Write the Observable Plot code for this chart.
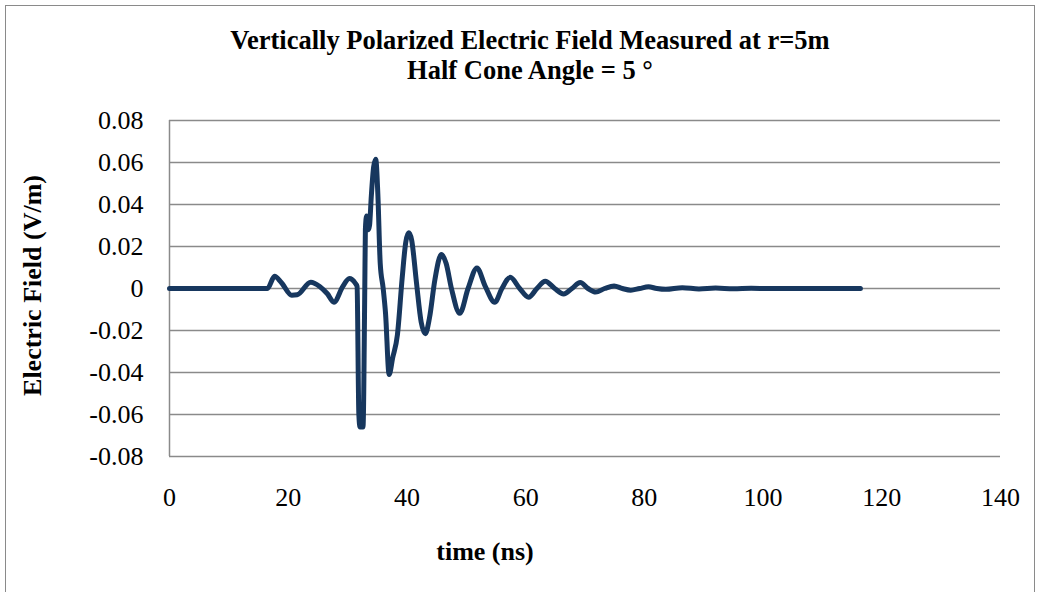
<!DOCTYPE html>
<html>
<head>
<meta charset="utf-8">
<script src="https://cdn.jsdelivr.net/npm/d3@7"></script>
<script src="https://cdn.jsdelivr.net/npm/@observablehq/plot@0.6"></script>
<style>
  html, body { margin: 0; padding: 0; background: #fff; overflow: hidden; }
  #wrap { position: relative; width: 1039px; height: 592px; font-family: "Liberation Serif", "Times New Roman", serif; }
  #border { position: absolute; left: 5px; top: 5px; width: 1030px; height: 640px; border: 1px solid #8a8a8a; box-sizing: border-box; }
  #title { position: absolute; left: 0; top: 0; width: 1060px; height: 100px; box-sizing: border-box; padding-top: 25px;
           text-align: center; font-weight: bold; font-size: 26.5px; line-height: 30px; color: #000; }
  #chart { position: absolute; left: 0; top: 100px; }
</style>
</head>
<body>
<div id="wrap">
  <div id="border"></div>
  <div id="title"></div>
  <div id="chart"></div>
</div>
<script>
const titleText = "Vertically Polarized Electric Field Measured at r=5m";
const subtitleText = "Half Cone Angle = 5 °";
const xLabel = "time (ns)";
const yLabel = "Electric Field (V/m)";
const xTicks = [0, 20, 40, 60, 80, 100, 120, 140];
const yTicks = [-0.08, -0.06, -0.04, -0.02, 0, 0.02, 0.04, 0.06, 0.08];

const timeNs = [0, 16.5, 17.7, 18.8, 20.6, 21.5, 23.8, 25.3, 26.6, 27.7, 29.2, 30.3, 31.3, 31.6,
  31.9, 32.1, 32.6, 32.9, 33.0, 33.2, 33.5, 33.7, 34.0, 34.4, 34.75, 35.1, 35.5, 36.0, 36.4, 37.0,
  37.6, 38.4, 39.2, 39.8, 40.3, 40.8, 41.6, 42.4, 43.1, 43.8, 44.7, 45.8, 46.6, 47.5, 48.9, 50.3,
  51.8, 53.2, 54.8, 56.0, 57.4, 59.0, 60.5, 61.9, 63.3, 64.9, 66.4, 67.8, 69.2, 70.5, 71.8, 73.3,
  74.9, 76.3, 77.7, 79.2, 80.7, 82.1, 83.6, 86.4, 89.2, 92.0, 95.0, 98.0, 101.0, 116.4];
const efield = [0, 0, 0.0058, 0.003, -0.0032, -0.003, 0.003, 0.001, -0.0025, -0.0065, 0.001, 0.0048, 0.0025, 0.001,
  -0.06, -0.066, -0.066, 0.0, 0.028, 0.0345, 0.028, 0.03, 0.044, 0.058, 0.0615, 0.045, 0.012, 0.0, -0.012, -0.041,
  -0.033, -0.022, 0.005, 0.022, 0.0265, 0.023, 0.003, -0.016, -0.0215, -0.014, 0.004, 0.0162, 0.012, 0.0, -0.0118, 0.0,
  0.0098, 0.001, -0.0066, 0.0, 0.0053, 0.0, -0.0042, 0.0, 0.0035, 0.0, -0.0026, 0.0, 0.0028, 0.0, -0.0017, 0.0,
  0.0012, 0.0, -0.0008, 0.0, 0.0008, 0.0, -0.0004, 0.0004, -0.0002, 0.0002, -0.0001, 0.0001, 0, 0];

document.getElementById("title").innerHTML = titleText + "<br>" + subtitleText;

const data = timeNs.map((t, i) => ({t, v: efield[i]}));

const fmtY = d => d === 0 ? "0" : d.toFixed(2);

const plot = Plot.plot({
  width: 1039,
  height: 492,
  marginLeft: 169,
  marginRight: 39,
  marginTop: 20,
  marginBottom: 136,
  style: { fontFamily: "'Liberation Serif', 'Times New Roman', serif", fontSize: "26px", color: "#000", background: "transparent" },
  x: { domain: [0, 140] },
  y: { domain: [-0.08, 0.08] },
  marks: [
    Plot.gridY(yTicks, { stroke: "#8a8a8a", strokeOpacity: 1, strokeWidth: 1.5 }),
    Plot.ruleX([0], { stroke: "#8a8a8a", strokeWidth: 1.5 }),
    Plot.axisY(yTicks, { tickSize: 0, tickPadding: 26, tickFormat: fmtY, label: null, fontSize: 26 }),
    Plot.axisX(xTicks, { tickSize: 0, tickPadding: 31, label: null, fontSize: 26 }),
    Plot.line(data, { x: "t", y: "v", stroke: "#17375E", strokeWidth: 5, curve: "monotone-x", strokeLinecap: "round", strokeLinejoin: "round" }),
    Plot.text([xLabel], { frameAnchor: "bottom", textAnchor: "middle", lineAnchor: "middle", dy: 95, dx: -100, fontWeight: "bold", fontSize: 26, fill: "#000" }),
    Plot.text([yLabel], { frameAnchor: "left", textAnchor: "middle", lineAnchor: "middle", dx: -137, dy: -3, rotate: -90, fontWeight: "bold", fontSize: 26, fill: "#000" })
  ]
});
document.getElementById("chart").appendChild(plot);
</script>
</body>
</html>
